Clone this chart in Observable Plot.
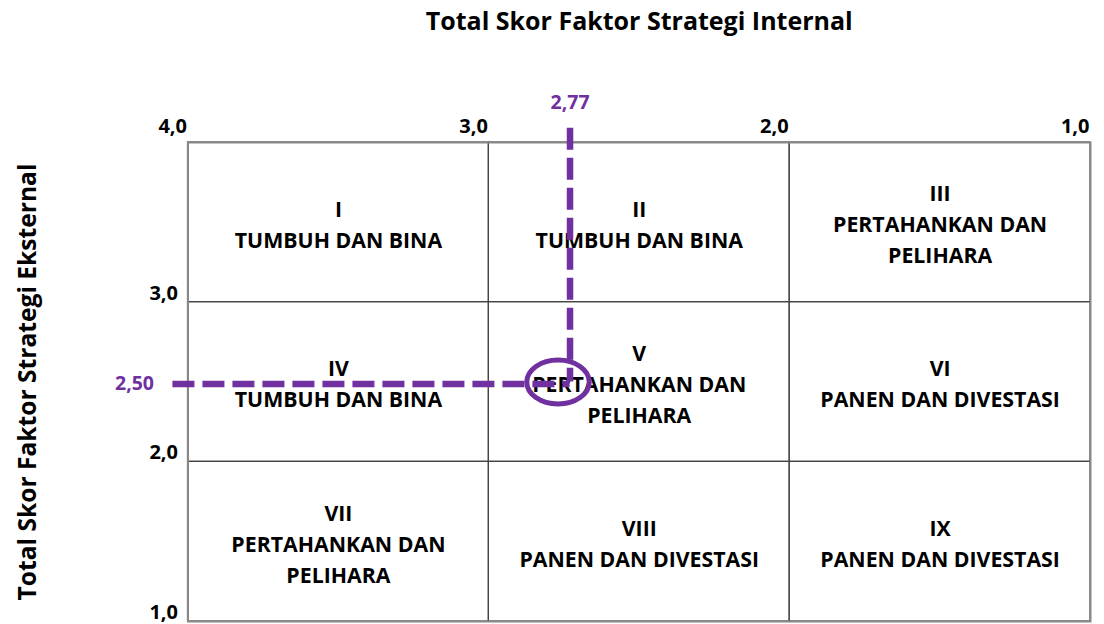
<!DOCTYPE html>
<html>
<head>
<meta charset="utf-8">
<script src="https://cdn.jsdelivr.net/npm/d3@7"></script>
<script src="https://cdn.jsdelivr.net/npm/@observablehq/plot@0.6"></script>
<style>
  html, body { margin: 0; padding: 0; background: #fff; }
  #chart svg { display: block; }
</style>
</head>
<body>
<div id="chart"></div>
<script>
// Axis ticks (IFE on top, reversed; EFE on left)
const ifeTicks = [4, 3, 2, 1];
const ifeTickLabels = ["4,0", "3,0", "2,0", "1,0"];
const efeTicks = [3, 2, 1];
const efeTickLabels = ["3,0", "2,0", "1,0"];

// Matrix cell bounds
const colBounds = [[4, 3], [3, 2], [2, 1]];
const rowBounds = [[4, 3], [3, 2], [2, 1]];
const romans = ["I", "II", "III", "IV", "V", "VI", "VII", "VIII", "IX"];
const strategies = [
  "TUMBUH DAN BINA",
  "TUMBUH DAN BINA",
  "PERTAHANKAN DAN\nPELIHARA",
  "TUMBUH DAN BINA",
  "PERTAHANKAN DAN\nPELIHARA",
  "PANEN DAN DIVESTASI",
  "PERTAHANKAN DAN\nPELIHARA",
  "PANEN DAN DIVESTASI",
  "PANEN DAN DIVESTASI"
];

// Company position
const ifeScore = 2.77;
const efeScore = 2.50;
const ifeScoreLabel = "2,77";
const efeScoreLabel = "2,50";

const titleX = "Total Skor Faktor Strategi Internal";
const titleY = "Total Skor Faktor Strategi Eksternal";

const cells = romans.map((r, i) => ({
  x1: colBounds[i % 3][0], x2: colBounds[i % 3][1],
  y1: rowBounds[Math.floor(i / 3)][0], y2: rowBounds[Math.floor(i / 3)][1],
  label: r + "\n" + strategies[i]
}));

const purple = "#7030a0";
const ellipse = {
  draw(context, size) {
    const r = Math.sqrt(size / Math.PI);
    const rx = r * 1.42, ry = r, k = 0.5523;
    context.moveTo(rx, 0);
    context.bezierCurveTo(rx, k * ry, k * rx, ry, 0, ry);
    context.bezierCurveTo(-k * rx, ry, -rx, k * ry, -rx, 0);
    context.bezierCurveTo(-rx, -k * ry, -k * rx, -ry, 0, -ry);
    context.bezierCurveTo(k * rx, -ry, rx, -k * ry, rx, 0);
    context.closePath();
  }
};

const font = "'Open Sans', sans-serif";

const chart = Plot.plot({
  width: 1104,
  height: 624,
  marginTop: 142,
  marginLeft: 187.5,
  marginRight: 14,
  marginBottom: 3,
  x: {domain: [4, 1], axis: null},
  y: {domain: [1, 4], axis: null},
  style: {fontFamily: font, color: "#000", background: "#fff"},
  marks: [
    Plot.rect(cells, {x1: "x1", x2: "x2", y1: "y1", y2: "y2", fill: "none", stroke: "#444", strokeWidth: 1.2}),
    Plot.frame({stroke: "#888", strokeWidth: 2}),
    Plot.text(cells, {
      x: d => (d.x1 + d.x2) / 2, y: d => (d.y1 + d.y2) / 2, text: "label",
      fontSize: 21.3, fontWeight: "bold", lineHeight: 1.455, lineAnchor: "middle", fill: "#000"
    }),
    Plot.text(ifeTicks, {
      x: d => d, y: 4, text: (d, i) => ifeTickLabels[i],
      textAnchor: "end", lineAnchor: "bottom", dx: -1, dy: -10, fontSize: 20, fontWeight: "bold", fill: "#000"
    }),
    Plot.text(efeTicks, {
      x: 4, y: d => d, text: (d, i) => efeTickLabels[i],
      textAnchor: "end", lineAnchor: "middle", dx: -10, dy: -9, fontSize: 20, fontWeight: "bold", fill: "#000"
    }),
    Plot.text([titleX], {
      frameAnchor: "top", text: d => d, dy: -113, lineAnchor: "bottom",
      fontSize: 25, fontWeight: "bold", fill: "#000"
    }),
    Plot.text([titleY], {
      frameAnchor: "left", text: d => d, dx: -160, rotate: -90,
      textAnchor: "middle", lineAnchor: "middle",
      fontSize: 24.6, fontWeight: "bold", fill: "#000"
    }),
    Plot.ruleX([ifeScore], {
      x: d => d, y1: 4.09, y2: efeScore, dx: 12,
      stroke: purple, strokeWidth: 6.5, strokeDasharray: "22,8"
    }),
    Plot.ruleY([efeScore], {
      y: d => d, x1: 4.09, x2: ifeScore, dx: 12, dy: 2,
      stroke: purple, strokeWidth: 6.5, strokeDasharray: "22,8"
    }),
    Plot.dot([[ifeScore, efeScore]], {
      x: d => d[0], y: d => d[1], r: 22, symbol: ellipse,
      fill: "none", stroke: purple, strokeWidth: 5
    }),
    Plot.text([ifeScoreLabel], {
      x: ifeScore, y: 4, text: d => d, dx: 12, dy: -34, lineAnchor: "bottom",
      fontSize: 19.5, fontWeight: "bold", fill: purple
    }),
    Plot.text([efeScoreLabel], {
      x: 4, y: efeScore, text: d => d, dx: -34, dy: 2, textAnchor: "end", lineAnchor: "middle",
      fontSize: 19.5, fontWeight: "bold", fill: purple
    })
  ]
});
document.getElementById("chart").appendChild(chart);
</script>
</body>
</html>
